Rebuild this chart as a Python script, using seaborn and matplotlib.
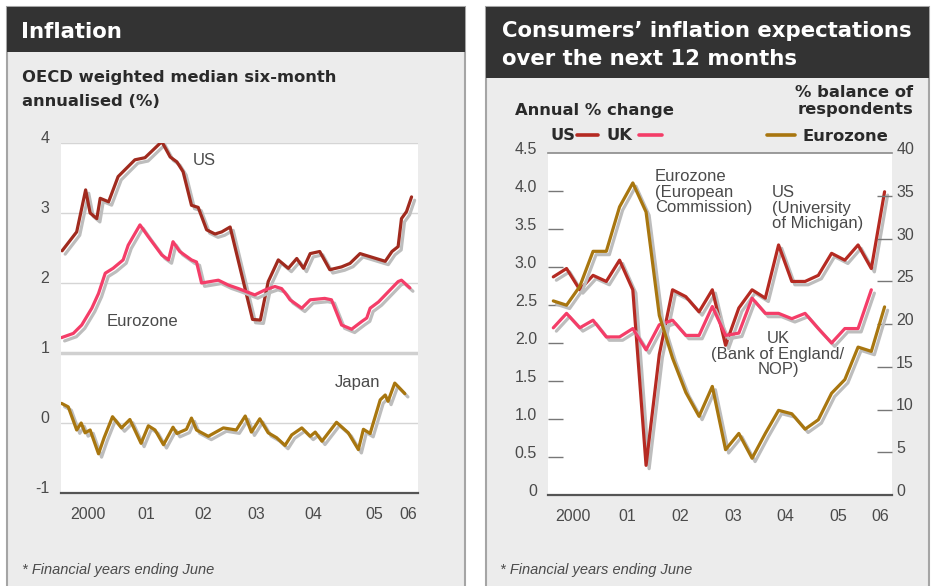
import numpy as np
import pandas as pd
import seaborn as sns
import matplotlib.pyplot as plt
import matplotlib.patheffects as pe
from matplotlib.patches import Rectangle
from matplotlib.lines import Line2D
from matplotlib.transforms import ScaledTranslation

W, H = 932, 586

# ---- left chart: OECD weighted median six-month annualised (%) ----
us_x = [1999.52, 1999.78, 1999.94, 2000.02, 2000.14, 2000.20, 2000.35, 2000.52, 2000.82, 2001.00,
        2001.30, 2001.45, 2001.57, 2001.68, 2001.83, 2001.95, 2002.10, 2002.25, 2002.37, 2002.52,
        2002.92, 2003.06, 2003.20, 2003.38, 2003.56, 2003.71, 2003.83, 2003.95, 2004.12, 2004.30,
        2004.51, 2004.66, 2004.84, 2005.29, 2005.41, 2005.52, 2005.58, 2005.67, 2005.76]
us_y = [2.46, 2.73, 3.33, 3.00, 2.92, 3.21, 3.16, 3.52, 3.76, 3.79,
        4.02, 3.80, 3.73, 3.59, 3.11, 3.08, 2.76, 2.70, 2.73, 2.80,
        1.48, 1.47, 2.02, 2.33, 2.21, 2.35, 2.21, 2.42, 2.45, 2.19,
        2.23, 2.28, 2.42, 2.31, 2.45, 2.52, 2.92, 3.02, 3.23]

ez_x = [1999.51, 1999.72, 1999.87, 2000.05, 2000.17, 2000.29, 2000.43, 2000.61, 2000.70, 2000.91,
        2001.06, 2001.30, 2001.42, 2001.50, 2001.62, 2001.83, 2001.92, 2002.01, 2002.31, 2002.49,
        2002.67, 2002.96, 2003.14, 2003.32, 2003.44, 2003.53, 2003.59, 2003.80, 2003.95, 2004.21,
        2004.33, 2004.51, 2004.69, 2004.87, 2004.96, 2005.02, 2005.17, 2005.52, 2005.58, 2005.73]
ez_y = [1.22, 1.28, 1.40, 1.64, 1.85, 2.14, 2.21, 2.33, 2.54, 2.83,
        2.66, 2.40, 2.33, 2.59, 2.45, 2.33, 2.30, 2.00, 2.04, 1.97,
        1.92, 1.83, 1.90, 1.95, 1.92, 1.83, 1.76, 1.64, 1.76, 1.78,
        1.76, 1.40, 1.34, 1.45, 1.50, 1.64, 1.73, 2.02, 2.04, 1.93]

jp_x = [1999.51, 1999.63, 1999.78, 1999.86, 1999.93, 2000.02, 2000.17, 2000.27, 2000.42, 2000.58,
        2000.73, 2000.93, 2001.06, 2001.18, 2001.33, 2001.50, 2001.57, 2001.74, 2001.83, 2001.92,
        2002.13, 2002.40, 2002.63, 2002.79, 2002.90, 2003.05, 2003.20, 2003.35, 2003.50, 2003.62,
        2003.80, 2003.95, 2004.04, 2004.16, 2004.42, 2004.63, 2004.81, 2004.90, 2005.02, 2005.20,
        2005.29, 2005.34, 2005.46, 2005.64]
jp_y = [0.28, 0.23, -0.10, 0.00, -0.14, -0.10, -0.44, -0.21, 0.09, -0.07,
        0.05, -0.29, -0.04, -0.10, -0.31, -0.06, -0.15, -0.09, 0.07, -0.10,
        -0.19, -0.07, -0.10, 0.10, -0.13, 0.06, -0.14, -0.21, -0.32, -0.17,
        -0.07, -0.19, -0.13, -0.26, 0.01, -0.14, -0.38, -0.09, -0.15, 0.33,
        0.40, 0.31, 0.57, 0.42]

left_yticks = [-1, 0, 1, 2, 3, 4]
left_ylabels = ['-1', '0', '1', '2', '3', '4']

# ---- right chart: consumers' inflation expectations (quarterly) ----
quarters = [1999.60, 1999.85, 2000.10, 2000.35, 2000.60, 2000.85, 2001.10, 2001.35, 2001.60, 2001.85,
            2002.10, 2002.35, 2002.60, 2002.85, 2003.10, 2003.35, 2003.60, 2003.85, 2004.10, 2004.35,
            2004.60, 2004.85, 2005.10, 2005.35, 2005.60, 2005.85]
us_michigan = [2.87, 2.98, 2.70, 2.89, 2.81, 3.09, 2.70, 0.39, 1.85, 2.70,
               2.61, 2.41, 2.70, 1.97, 2.46, 2.70, 2.59, 3.29, 2.81, 2.81,
               2.89, 3.18, 3.09, 3.29, 2.98, 3.99]
uk_boe = [2.20, 2.39, 2.20, 2.30, 2.08, 2.08, 2.19, 1.91, 2.24, 2.30,
          2.10, 2.10, 2.48, 2.10, 2.13, 2.59, 2.39, 2.39, 2.32, 2.39,
          2.19, 2.00, 2.19, 2.19, 2.70]
ez_commission = [22.7, 22.2, 24.4, 28.5, 28.5, 33.7, 36.5, 33.1, 21.0, 16.0,
                 12.0, 9.2, 12.7, 5.3, 7.2, 4.3, 7.2, 9.9, 9.5, 7.7,
                 8.8, 11.9, 13.5, 17.3, 16.8, 22.0]

right_yticks = [0, 0.5, 1, 1.5, 2, 2.5, 3, 3.5, 4, 4.5]
right_ylabels = ['0', '0.5', '1.0', '1.5', '2.0', '2.5', '3.0', '3.5', '4.0', '4.5']
bal_ticks = [0, 5, 10, 15, 20, 25, 30, 35, 40]

year_ticks = [1999.5, 2000.5, 2001.5, 2002.5, 2003.5, 2004.5, 2005.5]
year_labels = ['2000', '01', '02', '03', '04', '05', '06']
left_label_pos = [1999.98, 2001.02, 2002.04, 2002.98, 2004.0, 2005.1, 2005.7]
right_label_pos = [1999.97, 2000.99, 2001.99, 2002.99, 2003.97, 2004.97, 2005.76]

RED = '#a02a1e'
RED2 = '#b52a22'
PINK = '#f43d68'
GOLD = '#a8760f'
GREY_TXT = '#4a4a4a'

sns.set_style('white')
plt.rcParams['font.family'] = ['Liberation Sans', 'DejaVu Sans']

fig = plt.figure(figsize=(W / 100, H / 100), dpi=100)
fig.patch.set_facecolor('white')


def fx(px):
    return px / W


def fy(py):
    return 1 - py / H


def box(x0, y0, x1, y1, **kw):
    fig.add_artist(Rectangle((fx(x0), fy(y1)), (x1 - x0) / W, (y1 - y0) / H,
                             transform=fig.transFigure, zorder=-5, **kw))


def txt(x, y, s, **kw):
    fig.text(fx(x), fy(y), s, **kw)


# panels
box(7, 7, 465, 590, facecolor='#ececec', edgecolor='#a5a5a5', lw=1.5)
box(7, 7, 465, 52, facecolor='#333333', edgecolor='none')
box(486, 7, 929, 590, facecolor='#ececec', edgecolor='#a5a5a5', lw=1.5)
box(486, 7, 929, 78, facecolor='#333333', edgecolor='none')

head = dict(family='DejaVu Sans', weight='bold', color='white', size=15.3, va='baseline')
txt(21, 38, 'Inflation', **head)
txt(502, 37, 'Consumers\u2019 inflation expectations', **head)
txt(502, 65, 'over the next 12 months', **head)

sub = dict(family='DejaVu Sans', weight='bold', color='#2a2a2a', size=11.8, va='baseline')
txt(22, 82, 'OECD weighted median six-month', **sub)
txt(22, 106, 'annualised (%)', **sub)
txt(515, 115, 'Annual % change', **sub)
txt(913, 97, '% balance of', ha='right', **sub)
txt(913, 114, 'respondents', ha='right', **sub)
txt(550, 140, 'US', **sub)
txt(607, 140, 'UK', **sub)
txt(888, 141, 'Eurozone', ha='right', **sub)
for x0, x1, c in [(577, 598, RED2), (639, 662, PINK), (767, 795, GOLD)]:
    fig.add_artist(Line2D([fx(x0), fx(x1)], [fy(135), fy(135)], color=c, lw=2.6,
                          transform=fig.transFigure))

foot = dict(style='italic', color=GREY_TXT, size=10.5, va='center')
txt(22, 570, '* Financial years ending June', **foot)
txt(500, 570, '* Financial years ending June', **foot)

shadow = [pe.SimpleLineShadow(offset=(2.2, -2.4), shadow_color='#bdbdbd', alpha=1), pe.Normal()]
line_kw = dict(lw=2.3, estimator=None, sort=False, path_effects=shadow)
up6 = ScaledTranslation(0, 0.06, fig.dpi_scale_trans)
up5 = ScaledTranslation(0, 0.05, fig.dpi_scale_trans)

# ---- left axes ----
ax = fig.add_axes([fx(61), fy(493), 357 / W, 350 / H])
ax.set_facecolor('white')
for v in [0, 2, 3, 4]:
    ax.axhline(v, color='#d5d5d5', lw=1, zorder=0)
ax.axhline(1, color='#d0d0d0', lw=2.5, zorder=0)
sns.lineplot(x=us_x, y=us_y, ax=ax, color=RED, **line_kw)
sns.lineplot(x=ez_x, y=ez_y, ax=ax, color=PINK, **line_kw)
sns.lineplot(x=jp_x, y=jp_y, ax=ax, color=GOLD, **line_kw)
ax.set_xlim(1999.5, 2005.875)
ax.set_ylim(-1, 4)

# ---- right axes ----
axr = fig.add_axes([fx(548), fy(495), 344 / W, 342 / H])
axr.set_facecolor('white')
sns.lineplot(x=quarters, y=us_michigan, ax=axr, color=RED2, **line_kw)
sns.lineplot(x=quarters[:len(uk_boe)], y=uk_boe, ax=axr, color=PINK, **line_kw)
axr.set_xlim(1999.5, 2005.99)
axr.set_ylim(0, 4.5)
axb = axr.twinx()
sns.lineplot(x=quarters, y=ez_commission, ax=axb, color=GOLD, **line_kw)
axb.set_ylim(0, 40)

for a in [ax, axr, axb]:
    a.set_xlabel('')
    a.set_ylabel('')
    for s in a.spines.values():
        s.set_visible(False)
for a in [ax, axr]:
    a.spines['bottom'].set_visible(True)
    a.spines['bottom'].set_color('#555555')
    a.spines['bottom'].set_linewidth(1.6)
axr.spines['top'].set_visible(True)
axr.spines['top'].set_color('#8a8a8a')
axr.spines['top'].set_linewidth(1.2)

# x ticks: marks at year boundaries, labels centred on financial years
ax.set_xticks(year_ticks)
ax.set_xticklabels([])
ax.tick_params(axis='x', which='major', direction='in', length=8.5, width=1.5, color='#555555')
ax.set_xticks(left_label_pos, minor=True)
ax.set_xticklabels(year_labels, minor=True)
axr.set_xticks(year_ticks + [2005.99])
axr.set_xticklabels([])
axr.tick_params(axis='x', which='major', direction='in', length=7.5, width=1.5, color='#555555')
axr.set_xticks(right_label_pos, minor=True)
axr.set_xticklabels(year_labels, minor=True)
for a in [ax, axr]:
    a.tick_params(axis='x', which='minor', length=0, pad=10, labelsize=11.5, labelcolor=GREY_TXT)

# y ticks
ax.set_yticks(left_yticks)
ax.set_yticklabels(left_ylabels)
ax.tick_params(axis='y', length=0, pad=8.5, labelsize=11.5, labelcolor=GREY_TXT)
for lab in ax.get_yticklabels():
    lab.set_transform(lab.get_transform() + up6)

axr.set_yticks(right_yticks)
axr.set_yticklabels(right_ylabels)
axr.tick_params(axis='y', direction='in', length=10.5, width=1, color='#777777',
                pad=8, labelsize=11.5, labelcolor=GREY_TXT, left=True)
for lab in axr.get_yticklabels():
    lab.set_transform(lab.get_transform() + up5)

axb.set_yticks(bal_ticks)
axb.set_yticklabels([str(t) for t in bal_ticks])
axb.tick_params(axis='y', direction='in', length=10.5, width=1, color='#777777',
                pad=3, labelsize=11.5, labelcolor=GREY_TXT, right=True)
for lab in axb.get_yticklabels():
    lab.set_transform(lab.get_transform() + up5)
for a in [axr, axb]:
    ticks = a.yaxis.get_major_ticks()
    for t in [ticks[0], ticks[-1]]:
        t.tick1line.set_visible(False)
        t.tick2line.set_visible(False)

# series labels
lab_kw = dict(color=GREY_TXT, size=12, va='center')
txt(193, 160, 'US', **lab_kw)
txt(107, 322, 'Eurozone', **lab_kw)
txt(335, 382, 'Japan', **lab_kw)
txt(655, 192, 'Eurozone\n(European\nCommission)', linespacing=1.05, **lab_kw)
txt(772, 208, 'US\n(University\nof Michigan)', linespacing=1.05, **lab_kw)
txt(778, 354, 'UK\n(Bank of England/\nNOP)', ha='center', multialignment='center',
    linespacing=1.05, **lab_kw)

fig.savefig('out.png', dpi=100)
